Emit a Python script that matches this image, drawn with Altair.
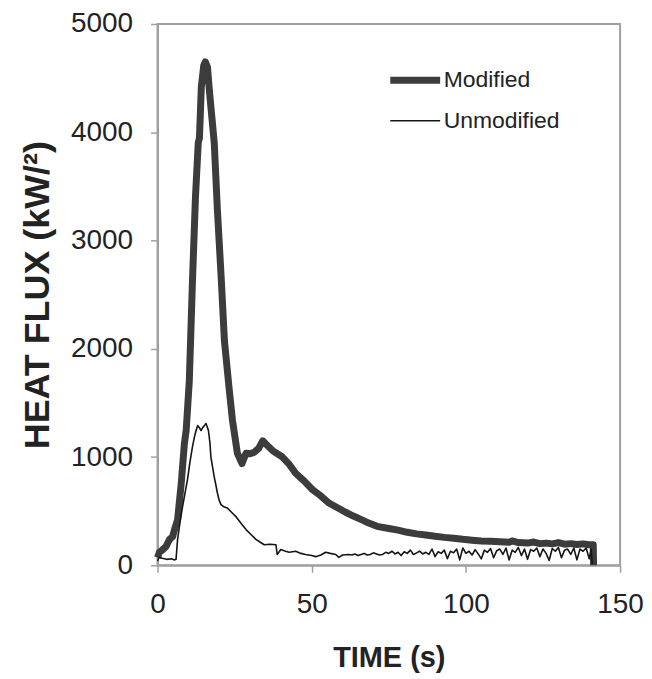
import altair as alt
import pandas as pd

# Modified (thick line)
mod_t = [0, 0.6, 1.5, 2.8, 3.9, 4.9, 5.5, 6.5, 7.7, 8.7, 9.3, 10.3, 11.3, 12.3, 13.2, 13.6,
         14.2, 15.0, 15.5, 16.2, 16.8, 17.8, 18.4, 19.4, 20.6, 21.7, 23.3, 24.3, 25.9, 27.4,
         28.7, 30.0, 31.4, 32.8, 34.1, 35.5, 37.3, 40.5, 42.5, 44.8, 47.5, 50.2, 53, 55.6,
         58.8, 61, 63.5, 66.3, 68.5, 71.2, 75, 78, 81, 84, 87, 90, 93, 96, 99, 102, 105,
         108, 111, 114, 115, 117, 120, 122, 124, 126, 128, 130, 132, 134, 136, 138, 140,
         141.3, 141.4]
mod_v = [70, 120, 140, 175, 240, 265, 330, 420, 760, 1120, 1250, 1700, 2600, 3400, 3900, 3950,
         4420, 4620, 4650, 4600, 4390, 4085, 3900, 3290, 2680, 2070, 1610, 1340, 1035, 940,
         1035, 1030, 1045, 1080, 1150, 1110, 1060, 1000, 940, 850, 780, 700, 640, 575,
         525, 490, 455, 420, 390, 360, 340, 325, 305, 290, 280, 268, 258, 250, 240, 232, 225,
         222, 218, 212, 225, 210, 205, 215, 200, 205, 198, 210, 195, 200, 192, 198, 190,
         190, 0]

# Unmodified (thin line)
unm_t = [0, 0.5, 1.5, 3, 4.5, 5.5, 6, 6.5, 7.3, 8.1, 9, 9.7, 10.5, 11.3, 12.0, 12.5, 13.0,
         13.6, 14.1, 14.6, 15.2, 15.7, 16.1, 16.5, 17.0, 17.3, 17.9, 18.4, 19.0, 19.4, 20.0,
         20.6, 21.5, 22.6, 24, 25.4, 27, 28.7, 30.3, 31.9, 33.2, 34.6, 36.5, 38.4, 38.8, 40,
         41.5, 42.7, 44.8, 46.5, 48, 50, 51.3, 53, 54.5, 56, 57.8, 58.8, 60,
         62, 63, 64, 65, 66, 67, 68, 69, 70, 71, 72, 73, 74, 75, 76, 77, 78, 79, 80, 81,
         82, 83, 84, 85, 86, 87, 88, 89, 90, 91, 92, 93, 94, 95, 96, 97, 98, 99, 100, 101,
         102, 103, 104, 105, 106, 107, 108, 109, 110, 111, 112, 113, 114, 115, 116, 117,
         118, 119, 120, 121, 122, 123, 124, 125, 126, 127, 128, 129, 130, 131, 132, 133,
         134, 135, 136, 137, 138, 139, 140, 140.6, 141]
unm_v = [40, 75, 65, 55, 60, 50, 55, 240, 400, 540, 680, 790, 950, 1090, 1190, 1245, 1290,
         1270, 1245, 1270, 1290, 1310, 1280, 1245, 1130, 1000, 900, 815, 730, 670, 600,
         560, 540, 530, 490, 450, 390, 330, 285, 240, 215, 190, 195, 190, 100, 145,
         130, 120, 130, 110, 100, 90, 80, 95, 120, 110, 100, 73, 95,
         100, 95, 105, 90, 100, 110, 95, 100, 115, 105, 95, 100, 120, 110, 130, 105, 120, 90, 125, 110,
         140, 100, 115, 130, 105, 120, 100, 150, 80, 125, 110, 140, 60, 130, 115, 150, 50, 160, 110, 130,
         95, 145, 105, 60, 140, 120, 155, 70, 135, 150, 100, 160, 50, 140, 120, 165,
         90, 150, 55, 145, 130, 160, 80, 150, 110, 45, 155, 130, 165, 70, 140, 150,
         100, 160, 50, 150, 130, 160, 60, 150, 10]

series_names = ["Modified", "Unmodified"]
x_ticks = [0, 50, 100, 150]
y_ticks = [0, 1000, 2000, 3000, 4000, 5000]

df = pd.concat([
    pd.DataFrame({"t": mod_t, "v": mod_v, "series": series_names[0], "o": range(len(mod_t))}),
    pd.DataFrame({"t": unm_t, "v": unm_v, "series": series_names[1], "o": range(len(unm_t))}),
])

FONT = "Liberation Sans"
leg = alt.Legend(orient="none", legendX=230, legendY=28, title=None,
                 symbolType="stroke", symbolSize=2500, labelFont=FONT,
                 labelFontSize=23, labelColor="#222222", rowPadding=-10, labelOffset=0)

chart = alt.Chart(df).mark_line(strokeJoin="round", strokeCap="butt").encode(
    x=alt.X("t:Q", scale=alt.Scale(domain=[0, 150], nice=False),
            axis=alt.Axis(values=x_ticks, title="TIME (s)", labelPadding=18, titlePadding=26,
                          labelFlush=False, labelOverlap=False, format="d", titleFontSize=29)),
    y=alt.Y("v:Q", scale=alt.Scale(domain=[0, 5000], nice=False),
            axis=alt.Axis(values=y_ticks, title="HEAT FLUX (kW/²)", labelPadding=18, titlePadding=14,
                          labelFlush=False, labelOverlap=False, format="d", titleFontSize=36)),
    color=alt.Color("series:N", scale=alt.Scale(domain=series_names, range=["#3c3c3c", "#151515"]), legend=leg),
    strokeWidth=alt.StrokeWidth("series:N", scale=alt.Scale(domain=series_names, range=[7, 1.6]), legend=leg),
    order="o:Q",
).properties(
    width=464, height=543,
    autosize=alt.AutoSizeParams(type="none"),
    padding={"left": 150, "top": 15, "right": 24, "bottom": 110},
).configure_view(
    stroke="#a0a0a0", strokeWidth=2
).configure_axis(
    grid=False, domainColor="#a0a0a0", domainWidth=2, tickColor="#a0a0a0", tickWidth=1.5,
    tickSize=7, labelFont=FONT, labelFontSize=28, labelColor="#222222",
    titleFont=FONT, titleFontWeight="bold", titleColor="#222222",
)

chart.save("out.html", embed_options={"renderer": "svg", "actions": False})
